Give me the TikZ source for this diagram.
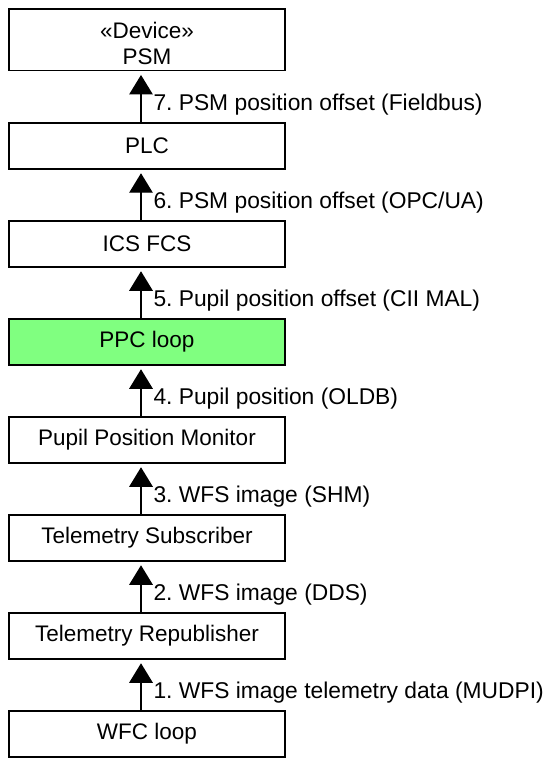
\documentclass[tikz,border=0pt]{standalone}
\usepackage{fontspec}
\setmainfont{Liberation Sans}
\usetikzlibrary{arrows.meta}

\definecolor{loopgreen}{HTML}{80FF80}
\frenchspacing

\tikzset{
  block/.style={draw=black, line width=1.5pt, fill=white,
    minimum width=276pt, minimum height=46pt, inner sep=0pt,
    font=\fontsize{22.5}{26}\selectfont, align=center},
  flow/.style={line width=1.3pt,
    -{Triangle[length=19.5pt, width=23.5pt]}, shorten >=3.5pt},
  msg/.style={anchor=base west, inner sep=0pt,
    font=\fontsize{22.8}{26}\selectfont}
}

\begin{document}
\begin{tikzpicture}[x=1pt, y=-1pt]
  \useasboundingbox (0,0) rectangle (544,759);

  % component chain, top to bottom
  % (stereotype box: two lines, last baseline placed below the centre)
  \node[block, minimum height=61.7pt] (psm) at (147,39.85)
    {\raisebox{-24.5pt}[0pt][0pt]{\begin{tabular}[b]{@{}c@{}}«Device»\\PSM\end{tabular}}};
  \node[block] (plc) at (147,146) {PLC};
  \node[block] (ics) at (147,244) {ICS FCS};
  \node[block, fill=loopgreen] (ppc) at (147,342) {PPC loop};
  \node[block] (ppm) at (147,440) {Pupil Position Monitor};
  \node[block] (tsub) at (147,538) {Telemetry Subscriber};
  \node[block] (trep) at (147,636) {Telemetry Republisher};
  \node[block] (wfc) at (147,734) {WFC loop};

  % data flow, upwards
  \draw[flow] ([xshift=-6pt]plc.north)  -- ([xshift=-6pt]psm.south);
  \draw[flow] ([xshift=-6pt]ics.north)  -- ([xshift=-6pt]plc.south);
  \draw[flow] ([xshift=-6pt]ppc.north)  -- ([xshift=-6pt]ics.south);
  \draw[flow] ([xshift=-6pt]ppm.north)  -- ([xshift=-6pt]ppc.south);
  \draw[flow] ([xshift=-6pt]tsub.north) -- ([xshift=-6pt]ppm.south);
  \draw[flow] ([xshift=-6pt]trep.north) -- ([xshift=-6pt]tsub.south);
  \draw[flow] ([xshift=-6pt]wfc.north)  -- ([xshift=-6pt]trep.south);

  % message labels beside the arrows
  \node[msg] (m7) at ([xshift=6.3pt, yshift=-39pt]psm.south) {7. PSM position offset (Fieldbus)};
  \node[msg] (m6) at ([xshift=6.3pt, yshift=-39pt]plc.south) {6. PSM position offset (OPC/UA)};
  \node[msg] (m5) at ([xshift=6.3pt, yshift=-39pt]ics.south) {5. Pupil position offset (CII MAL)};
  \node[msg] (m4) at ([xshift=6.3pt, yshift=-39pt]ppc.south) {4. Pupil position (OLDB)};
  \node[msg] (m3) at ([xshift=6.3pt, yshift=-39pt]ppm.south) {3. WFS image (SHM)};
  \node[msg] (m2) at ([xshift=6.3pt, yshift=-39pt]tsub.south) {2. WFS image (DDS)};
  \node[msg] (m1) at ([xshift=6.3pt, yshift=-39pt]trep.south) {1. WFS image telemetry data (MUDPI)};
\end{tikzpicture}
\end{document}
